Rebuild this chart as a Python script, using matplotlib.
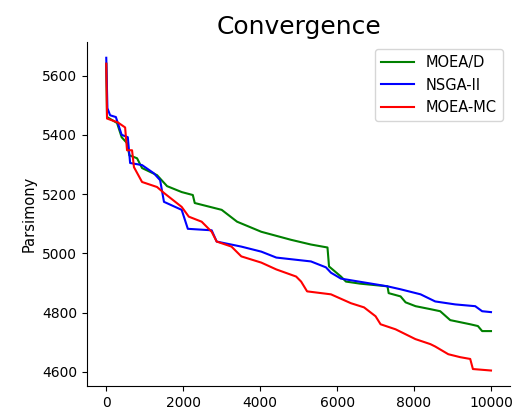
import matplotlib.pyplot as plt

# convergence traces
moead_x = [0, 20, 280, 400, 540, 600, 800, 930, 1140, 1320, 1580, 1960, 2250, 2300, 3000, 3400,
           4030, 4800, 5320, 5750, 5790, 6100, 6230, 6600, 7310, 7340, 7650, 7780, 8040, 8425,
           8680, 8940, 9460, 9660, 9770, 10000]
moead_y = [5640, 5460, 5440, 5392, 5372, 5331, 5321, 5288, 5275, 5264, 5227, 5207, 5197, 5170,
           5147, 5107, 5073, 5046, 5030, 5020, 4956, 4922, 4905, 4898, 4889, 4866, 4855, 4835,
           4822, 4812, 4805, 4775, 4761, 4755, 4738, 4738]

nsga_x = [0, 30, 100, 250, 400, 560, 620, 930, 1240, 1400, 1500, 1960, 2120, 2740, 2870, 3510,
          4030, 4420, 5320, 5710, 5840, 6100, 7310, 7650, 8170, 8550, 9070, 9590, 9770, 10000]
nsga_y = [5660, 5490, 5466, 5460, 5400, 5392, 5305, 5298, 5270, 5247, 5174, 5147, 5083, 5078,
          5040, 5023, 5006, 4986, 4973, 4953, 4935, 4915, 4889, 4879, 4862, 4838, 4828, 4822,
          4805, 4802]

mc_x = [0, 20, 300, 490, 540, 670, 720, 930, 1320, 1500, 1960, 2145, 2480, 2740, 2870, 3255,
        3510, 4030, 4420, 4935, 5065, 5220, 5840, 6360, 6700, 7000, 7130, 7520, 8035, 8425,
        8550, 8890, 9200, 9460, 9530, 10000]
mc_y = [5640, 5455, 5442, 5425, 5348, 5348, 5291, 5241, 5224, 5204, 5157, 5124, 5107, 5073,
        5040, 5023, 4990, 4969, 4946, 4922, 4905, 4872, 4862, 4832, 4818, 4788, 4761, 4744,
        4711, 4694, 4686, 4660, 4650, 4644, 4610, 4605]

fig = plt.figure(figsize=(5.18, 4.13), dpi=100)
ax = fig.add_axes([0.168, 0.065, 0.817, 0.833])

ax.plot(moead_x, moead_y, color='green', label='MOEA/D', lw=1.5)
ax.plot(nsga_x, nsga_y, color='blue', label='NSGA-II', lw=1.5)
ax.plot(mc_x, mc_y, color='red', label='MOEA-MC', lw=1.5)

ax.set_title('Convergence', fontsize=18)
ax.set_ylabel('Parsimony', fontsize=10.5)
ax.set_xticks([0, 2000, 4000, 6000, 8000, 10000])
ax.set_yticks([4600, 4800, 5000, 5200, 5400, 5600])
ax.spines['top'].set_visible(False)
ax.spines['right'].set_visible(False)
ax.legend(loc='upper right', fontsize=10.5, handlelength=2.3)

fig.savefig('out.png', dpi=100)
